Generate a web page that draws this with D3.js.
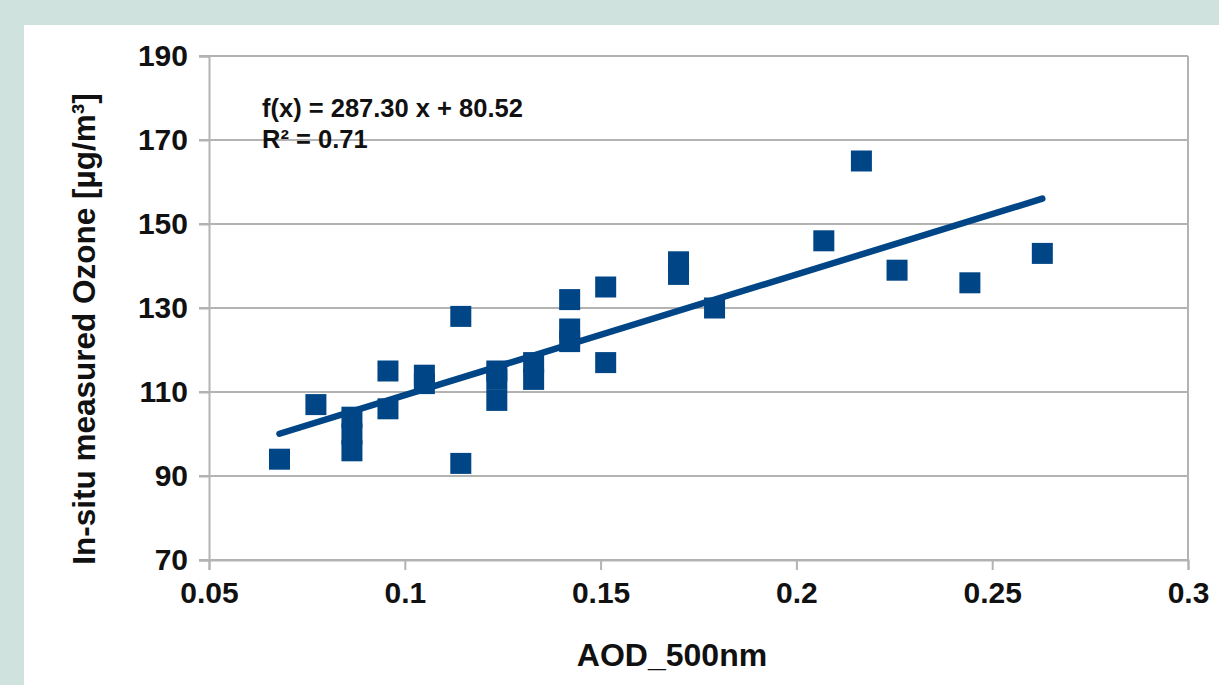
<!DOCTYPE html>
<html>
<head>
<meta charset="utf-8">
<script src="https://cdn.jsdelivr.net/npm/d3@7"></script>
<style>
  body { margin: 0; background: #cfe2de; }
  svg { display: block; }
  text { font-family: "Liberation Sans", Arial, sans-serif; font-weight: bold; fill: #111; }
</style>
</head>
<body>
<svg id="svg" width="1219" height="685"></svg>
<script>
// data
const aod    = [0.068, 0.0773, 0.0865, 0.0865, 0.0865, 0.0957, 0.0957, 0.105, 0.105, 0.1143, 0.1143,
                0.1235, 0.1235, 0.1235, 0.1329, 0.1329, 0.1421, 0.1421, 0.1421, 0.1513, 0.1513,
                0.1699, 0.1699, 0.1791, 0.207, 0.2166, 0.2257, 0.2443, 0.2628];
const ozone  = [94, 107, 104, 100, 96, 115, 106, 114, 112, 128, 93,
                115, 113, 108, 117, 113, 132, 125, 122, 135, 117,
                141, 138, 130, 146, 165, 139, 136, 143];
const xTicks = [0.05, 0.1, 0.15, 0.2, 0.25, 0.3];
const yTicks = [70, 90, 110, 130, 150, 170, 190];
const slope = 287.30, intercept = 80.52, r2 = 0.71;

const w = 1219, h = 685;
const blue = '#004586';
const grid = '#b3b3b3';

const svg = d3.select('#svg');

// white chart panel
svg.append('rect').attr('x', 24).attr('y', 25).attr('width', w - 24).attr('height', h - 25).attr('fill', 'white');

const x = d3.scaleLinear().domain([0.05, 0.3]).range([209, 1188]);
const y = d3.scaleLinear().domain([70, 190]).range([560, 56]);

// horizontal grid lines
svg.append('g').selectAll('line')
   .data(yTicks).enter().append('line')
   .attr('x1', 199).attr('x2', x(0.3))
   .attr('y1', d => y(d)).attr('y2', d => y(d))
   .attr('stroke', grid).attr('stroke-width', 2);

// y axis
const yAxis = d3.axisLeft(y).tickValues(yTicks).tickSize(10).tickPadding(11).tickFormat(d3.format('d'));
const gy = svg.append('g').attr('transform', `translate(${x(0.05)},0)`).call(yAxis);
gy.select('.domain').attr('stroke', grid).attr('stroke-width', 2);
gy.selectAll('.tick line').attr('stroke', grid).attr('stroke-width', 2);
gy.selectAll('.tick text').attr('font-size', 30).attr('font-family', '"Liberation Sans", Arial, sans-serif').attr('fill', '#111');

// x axis
const xAxis = d3.axisBottom(x).tickValues(xTicks).tickSize(10).tickPadding(12).tickFormat(d => String(d));
const gx = svg.append('g').attr('transform', `translate(0,${y(70)})`).call(xAxis);
gx.select('.domain').attr('stroke', grid).attr('stroke-width', 2);
gx.selectAll('.tick line').attr('stroke', grid).attr('stroke-width', 2);
gx.selectAll('.tick text').attr('font-size', 30).attr('font-family', '"Liberation Sans", Arial, sans-serif').attr('fill', '#111');

// right frame line
svg.append('line')
   .attr('x1', x(0.3)).attr('x2', x(0.3)).attr('y1', y(190)).attr('y2', y(70))
   .attr('stroke', grid).attr('stroke-width', 2);

// points
const pts = aod.map((a, i) => ({a: a, o: ozone[i]}));
const size = 21;
svg.append('g').selectAll('rect')
   .data(pts).enter().append('rect')
   .attr('x', d => x(d.a) - size / 2)
   .attr('y', d => y(d.o) - size / 2)
   .attr('width', size).attr('height', size)
   .attr('fill', blue);

// trend line
const x0 = d3.min(aod), x1 = d3.max(aod);
svg.append('line')
   .attr('x1', x(x0)).attr('y1', y(slope * x0 + intercept))
   .attr('x2', x(x1)).attr('y2', y(slope * x1 + intercept))
   .attr('stroke', blue).attr('stroke-width', 6.5).attr('stroke-linecap', 'round');

// equation
svg.append('text').attr('x', 262).attr('y', 117).attr('font-size', 25.5)
   .text(`f(x) = ${slope.toFixed(2)} x + ${intercept.toFixed(2)}`);
svg.append('text').attr('x', 262).attr('y', 148).attr('font-size', 25.5)
   .text(`R² = ${r2.toFixed(2)}`);

// axis titles
svg.append('text').attr('x', 672).attr('y', 666).attr('text-anchor', 'middle').attr('font-size', 32)
   .text('AOD_500nm');
svg.append('text').attr('transform', 'translate(95,329) rotate(-90)').attr('text-anchor', 'middle').attr('font-size', 31.5)
   .text('In-situ measured Ozone [µg/m³]');
</script>
</body>
</html>
